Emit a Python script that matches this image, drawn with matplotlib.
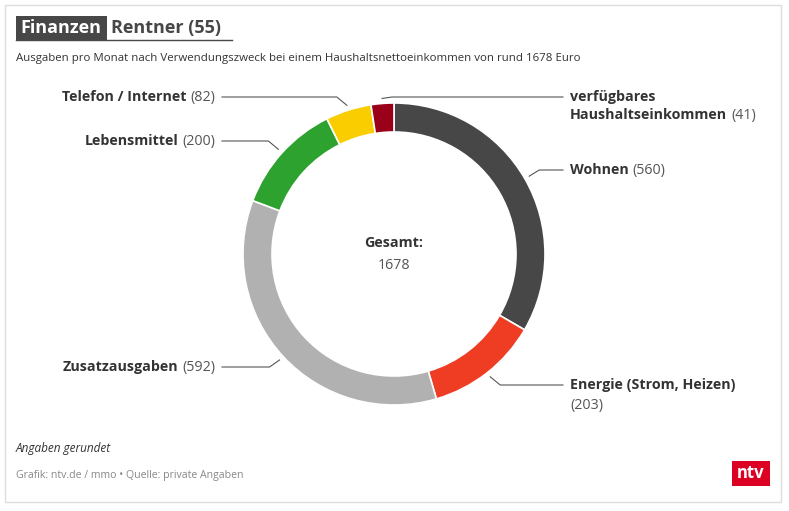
import matplotlib
matplotlib.use("Agg")
import numpy as np
import matplotlib.pyplot as plt
from matplotlib.patches import Rectangle

# data
categories = ["Wohnen", "Energie (Strom, Heizen)", "Zusatzausgaben",
              "Lebensmittel", "Telefon / Internet", "verfügbares Haushaltseinkommen"]
values = [560, 203, 592, 200, 82, 41]
colors = ["#474747", "#ee3d23", "#b1b1b1", "#2ea22e", "#f9cd00", "#9b0019"]
total = 1678

plt.rcParams['font.family'] = ['Open Sans', 'DejaVu Sans']

W, H = 789, 511
fig = plt.figure(figsize=(W / 100, H / 100), dpi=100)
ax = fig.add_axes([0, 0, 1, 1])


def py(y):
    # pixel row (from top) -> data y
    return H - y


cx, cy, R, ring = 394, py(254), 151, 29
ax.pie(values, colors=colors, startangle=90, counterclock=False,
       center=(cx, cy), radius=R,
       wedgeprops=dict(width=ring, edgecolor="white", linewidth=1.2))
ax.set_xlim(0, W)
ax.set_ylim(0, H)
ax.set_aspect("equal")
ax.axis("off")

renderer = fig.canvas.get_renderer()
DARK, MID = "#333333", "#555555"
FS = 10.3


def mixed(x, y, bold, regular, ha):
    if ha == "left":
        t = ax.text(x, y, bold, fontsize=FS, weight="bold", color=DARK, ha="left", va="center")
        if regular:
            bb = t.get_window_extent(renderer)
            ax.text(bb.x1 + 4, y, regular, fontsize=FS, color=MID, ha="left", va="center")
    else:
        t = ax.text(x, y, regular, fontsize=FS, color=MID, ha="right", va="center")
        bb = t.get_window_extent(renderer)
        ax.text(bb.x0 - 4, y, bold, fontsize=FS, weight="bold", color=DARK, ha="right", va="center")


# label layout: (side, pixel y of leader line)
label_pos = [("r", 170), ("r", 385), ("l", 367), ("l", 141), ("l", 97), ("r", 97)]

cum = np.cumsum([0] + values[:-1])
for i, v in enumerate(values):
    ang = np.deg2rad(90 - (cum[i] + v / 2) / total * 360)
    sx, sy = cx + (R + 5) * np.cos(ang), cy + (R + 5) * np.sin(ang)
    side, ly = label_pos[i]
    if side == "r":
        ex, xe = sx + 10, 563
    else:
        ex, xe = sx - 10, 222
    ax.plot([sx, ex, xe], [sy, py(ly), py(ly)], color=MID, lw=0.8)

# labels
mixed(570, py(170), "Wohnen", "(560)", "left")
mixed(570, py(385), "Energie (Strom, Heizen)", "", "left")
ax.text(570, py(405), "(203)", fontsize=FS, color=MID, ha="left", va="center")
mixed(215, py(367), "Zusatzausgaben", "(592)", "right")
mixed(215, py(141), "Lebensmittel", "(200)", "right")
mixed(215, py(97), "Telefon / Internet", "(82)", "right")
mixed(570, py(97), "verfügbares", "", "left")
mixed(570, py(115), "Haushaltseinkommen", "(41)", "left")

# center
ax.text(cx, py(243), "Gesamt:", fontsize=FS, weight="bold", color=DARK, ha="center", va="center")
ax.text(cx, py(265), str(total), fontsize=FS, color=MID, ha="center", va="center")

# frame
ax.add_patch(Rectangle((5, py(502)), 776, 497, fill=False, edgecolor="#dddddd", lw=1))

# title
ax.add_patch(Rectangle((16, py(40)), 91, 24, color="#474747", lw=0))
ax.text(20, py(28), "Finanzen", fontsize=13, weight="bold", color="white", ha="left", va="center")
ax.text(111, py(28), "Rentner (55)", fontsize=13, weight="bold", color="#474747", ha="left", va="center")
ax.plot([16, 232], [py(40), py(40)], color="#474747", lw=1)
ax.text(16, py(58), "Ausgaben pro Monat nach Verwendungszweck bei einem Haushaltsnettoeinkommen "
        "von rund 1678 Euro", fontsize=8.25, color="#333333", ha="left", va="center")

# footer
ax.text(16, py(448), "Angaben gerundet", fontsize=8.5, style="italic", color="#333333", ha="left", va="center")
ax.text(16, py(475), "Grafik: ntv.de / mmo • Quelle: private Angaben", fontsize=7.55,
        color="#888888", ha="left", va="center")
ax.add_patch(Rectangle((732, py(486)), 38, 25, color="#dc0023", lw=0))
ax.text(751, py(473), "ntv", fontsize=12, weight="bold", color="white", ha="center", va="center")

fig.savefig("out.png", dpi=100)
